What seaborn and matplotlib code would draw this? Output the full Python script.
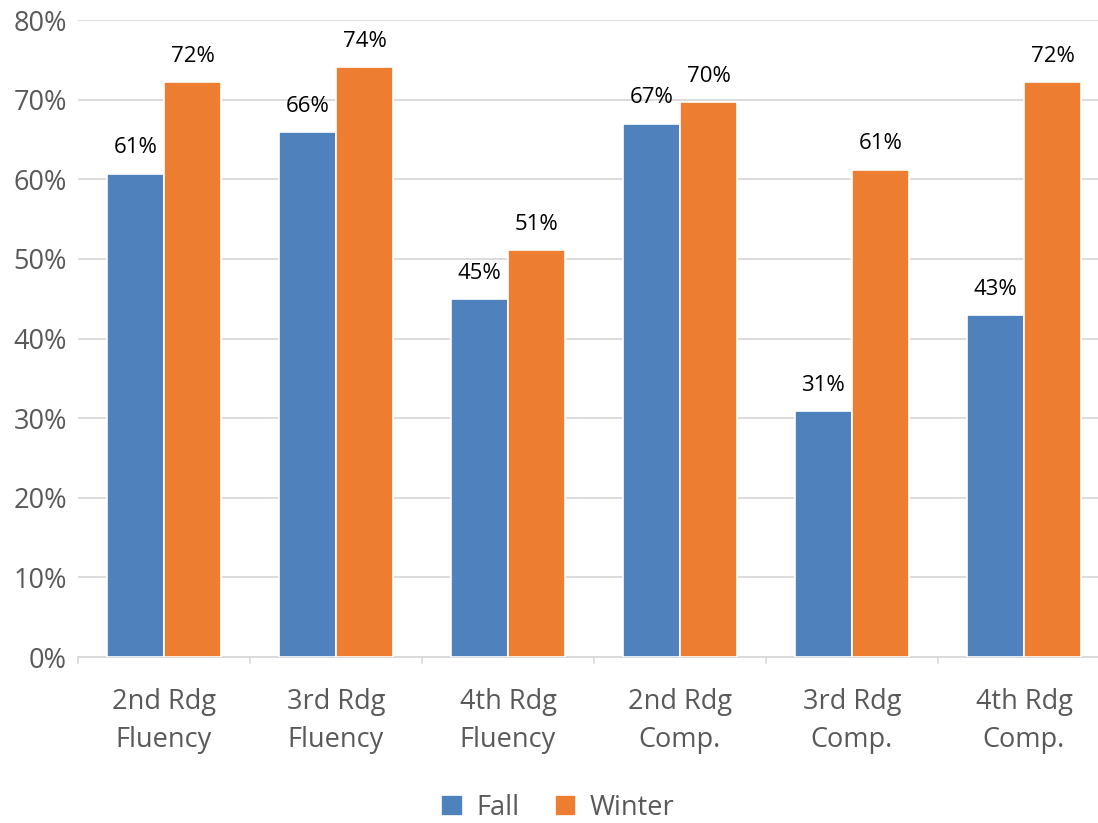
import pandas as pd
import seaborn as sns
import matplotlib.pyplot as plt

categories = ["2nd Rdg\nFluency", "3rd Rdg\nFluency", "4th Rdg\nFluency",
              "2nd Rdg\nComp.", "3rd Rdg\nComp.", "4th Rdg\nComp."]
fall = [60.7, 65.9, 44.9, 67.0, 30.9, 42.9]
winter = [72.2, 74.1, 51.1, 69.7, 61.2, 72.2]
y_ticks = [0, 10, 20, 30, 40, 50, 60, 70, 80]

df = pd.DataFrame({
    "category": categories * 2,
    "season": ["Fall"] * len(categories) + ["Winter"] * len(categories),
    "value": fall + winter,
})

sns.set_theme(style="white")
plt.rcParams["font.family"] = ["Open Sans", "DejaVu Sans"]

fig = plt.figure(figsize=(10.98, 8.23), dpi=100)
ax = fig.add_axes([78 / 1098, 1 - 657 / 823, 1032 / 1098, 637 / 823])

palette = {"Fall": "#4F81BD", "Winter": "#ED7D31"}
sns.barplot(data=df, x="category", y="value", hue="season", palette=palette,
            width=0.665, edgecolor="white", linewidth=1.2, saturation=1,
            ax=ax, zorder=3)

for container in ax.containers:
    ax.bar_label(container, labels=[f"{v:.0f}%" for v in container.datavalues],
                 padding=11, fontsize=16, color="black")

ax.set_ylim(0, 80)
ax.set_yticks(y_ticks)
ax.set_yticklabels([f"{t}%" for t in y_ticks], fontsize=19.5, color="#595959")
ax.set_xticks(range(len(categories)))
ax.set_xticklabels(categories, fontsize=19.5, color="#595959", linespacing=1.5)
ax.tick_params(axis="x", pad=22, length=0)
ax.tick_params(axis="y", length=0, pad=8)
ax.set_xlim(-0.5, 5.5)
ax.grid(axis="y", color="#D9D9D9", linewidth=1.3, zorder=0)
ax.set_axisbelow(True)
for s in ["top", "right", "left"]:
    ax.spines[s].set_visible(False)
ax.spines["bottom"].set_color("#D9D9D9")
ax.spines["bottom"].set_linewidth(1.3)
for i in range(7):
    ax.plot([i - 0.5, i - 0.5], [0, -0.8], color="#D9D9D9", lw=1.3,
            clip_on=False, zorder=2)
ax.set_xlabel("")
ax.set_ylabel("")

ax.legend(loc="center", bbox_to_anchor=(480 / 1032, -0.237), ncol=2, frameon=False,
          fontsize=19.5, labelcolor="#595959", handlelength=0.8, handleheight=0.8,
          handletextpad=0.5, columnspacing=1.3)

fig.savefig("out.png", dpi=100)
